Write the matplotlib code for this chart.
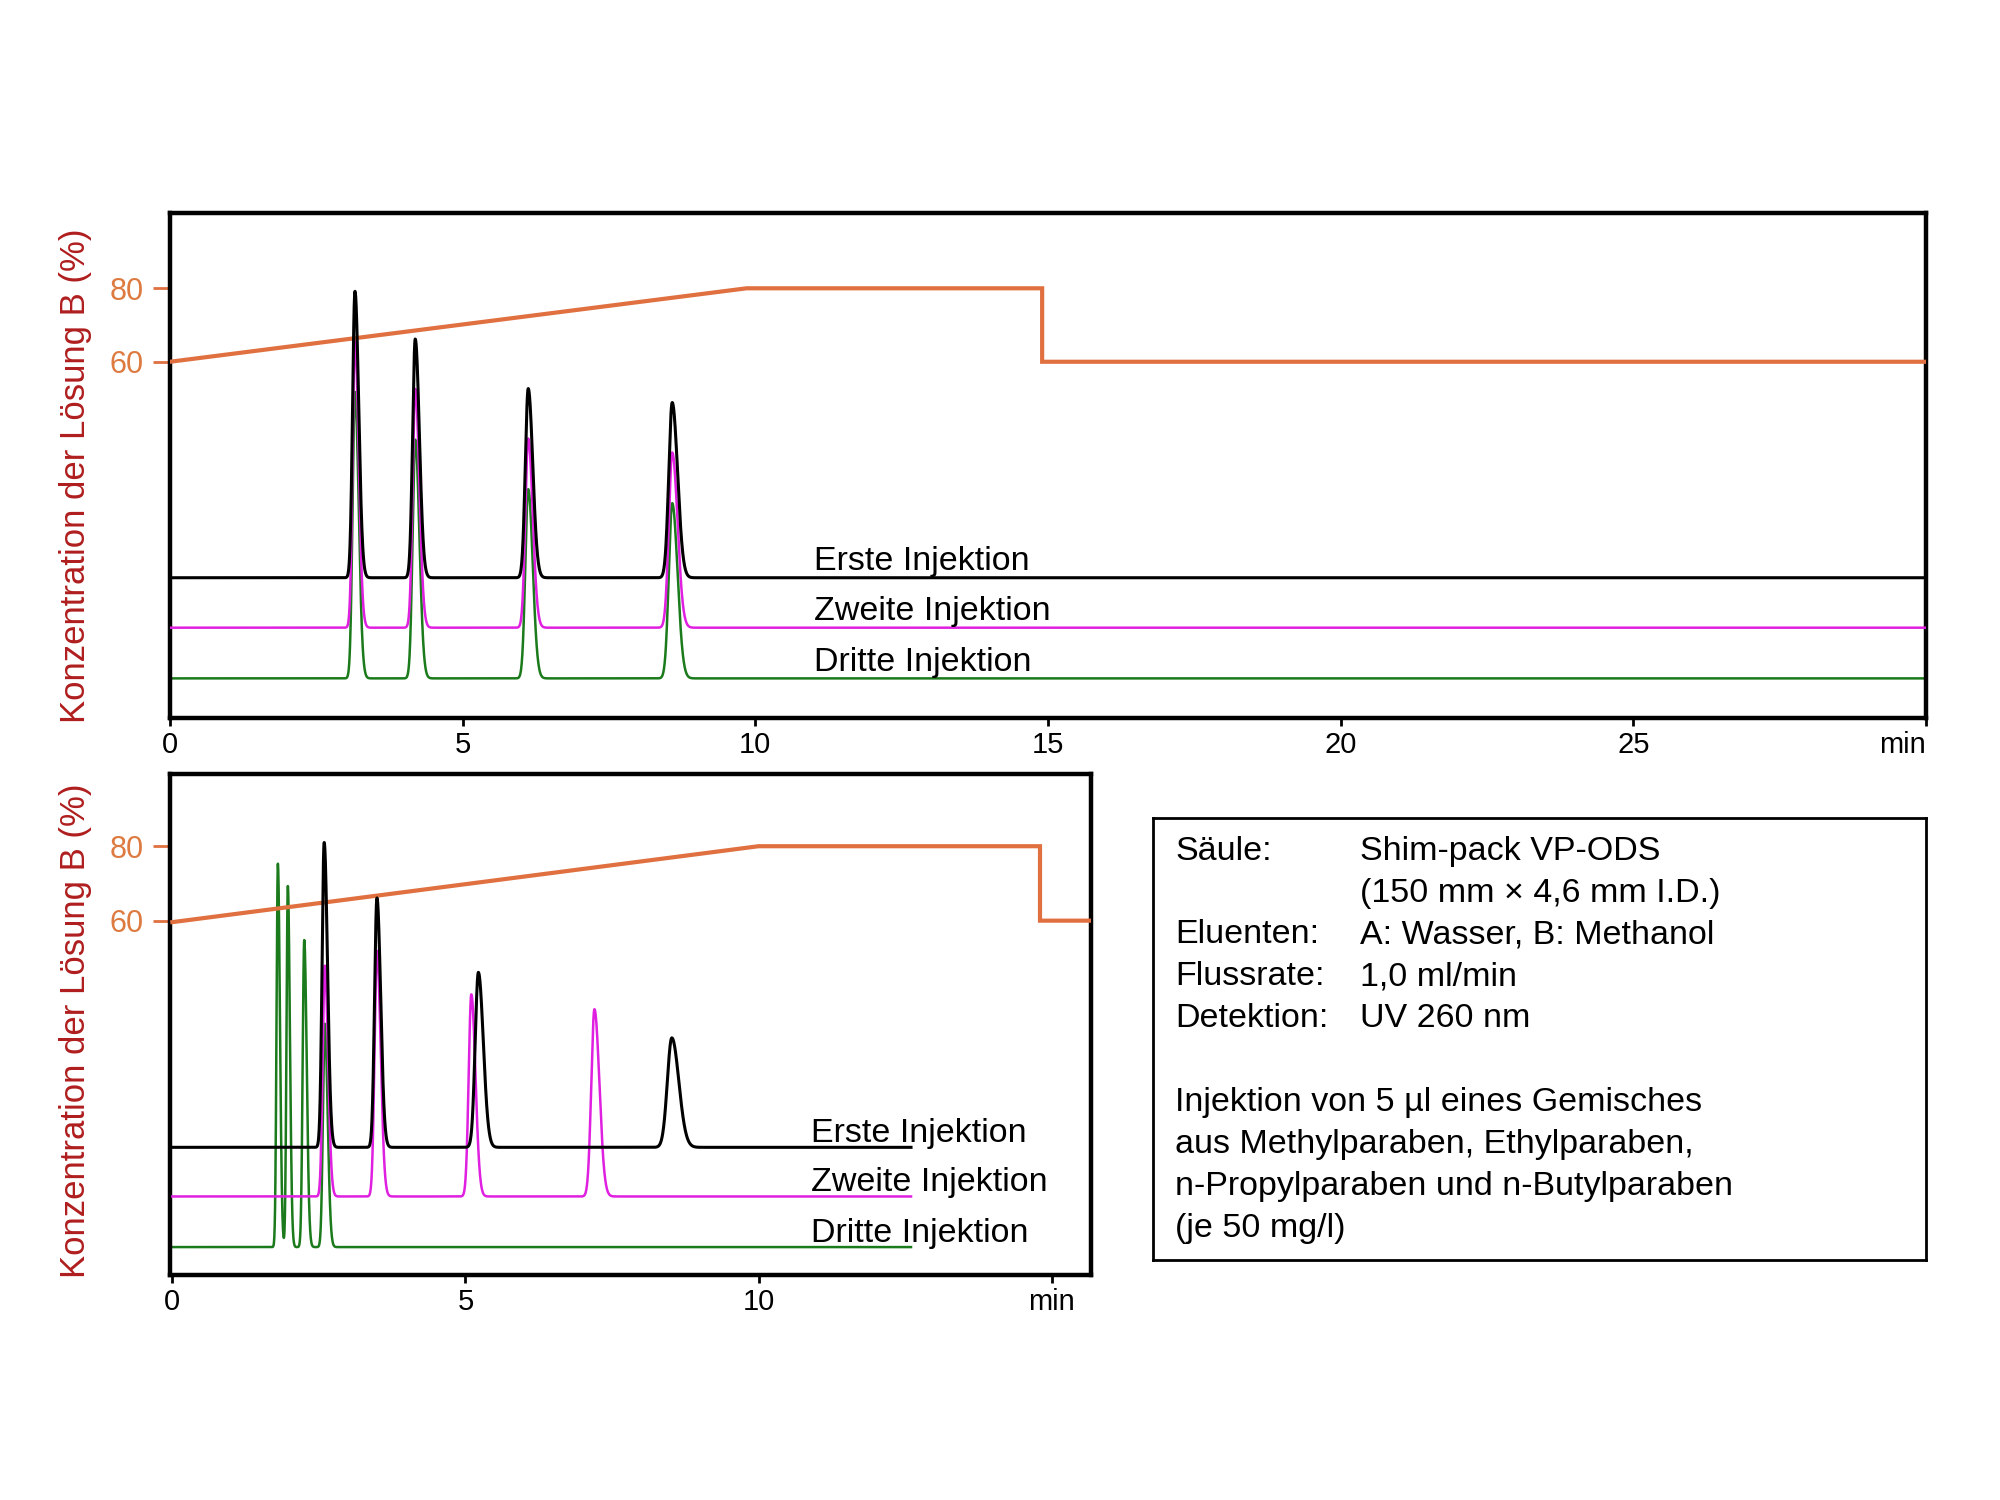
import numpy as np
import matplotlib
matplotlib.use("Agg")
import matplotlib.pyplot as plt

plt.rcParams['font.family'] = ['Liberation Sans', 'DejaVu Sans']

# gradient program (% B)
grad_top_t = [0, 9.85, 14.9, 14.9, 30]
grad_top_b = [60, 80, 80, 60, 60]
grad_bot_t = [0, 10.0, 14.8, 14.8, 15.7]
grad_bot_b = [59.6, 80, 80, 60, 60]

# top panel: peaks (retention time, height, width) - same for all three injections
top_rt = [3.16, 4.19, 6.12, 8.58]
top_h = [78.0, 65.0, 51.5, 47.7]
top_w = [0.045, 0.05, 0.055, 0.065]
top_base = [1.2, -12.4, -26.2]

# bottom panel
bot_rt_1 = [2.59, 3.49, 5.22, 8.52]
bot_h_1 = [81.9, 67.0, 47.0, 29.4]
bot_w_1 = [0.04, 0.045, 0.06, 0.085]
bot_rt_2 = [2.60, 3.49, 5.10, 7.20]
bot_h_2 = [62.0, 66.0, 54.3, 50.3]
bot_w_2 = [0.04, 0.045, 0.05, 0.06]
bot_rt_3 = [1.80, 1.97, 2.25, 2.60]
bot_h_3 = [103.0, 97.0, 82.5, 60.0]
bot_w_3 = [0.025, 0.025, 0.03, 0.035]
bot_base = [-0.9, -14.1, -27.7]

trace_names = ["Erste Injektion", "Zweite Injektion", "Dritte Injektion"]
trace_colors = ["black", "#e020e0", "#1b7a1b"]
trace_lw = [2.2, 1.8, 1.8]

info_keys = ["Säule:", "", "Eluenten:", "Flussrate:", "Detektion:"]
info_vals = ["Shim-pack VP-ODS", "(150 mm × 4,6 mm I.D.)", "A: Wasser, B: Methanol",
             "1,0 ml/min", "UV 260 nm"]
info_note = ["Injektion von 5 µl eines Gemisches", "aus Methylparaben, Ethylparaben,",
             "n-Propylparaben und n-Butylparaben", "(je 50 mg/l)"]

ORANGE = "#e07040"
ORANGE_TXT = "#dd7a40"
DARKRED = "#b01e1e"


def chrom(t, base, rts, hs, ws):
    y = np.full_like(t, base, dtype=float)
    for rt, h, w in zip(rts, hs, ws):
        s = np.where(t < rt, 0.9 * w, 1.4 * w)
        y += h * np.exp(-0.5 * ((t - rt) / s) ** 2)
    return y


def style_axes(ax, xticks, xlabels, ylim):
    for sp in ax.spines.values():
        sp.set_linewidth(3.2)
        sp.set_color("black")
    ax.set_ylim(*ylim)
    ax.set_xticks(xticks)
    ax.set_xticklabels(xlabels)
    ax.set_yticks([60, 80])
    ax.tick_params(axis='x', length=6, width=2, pad=3, labelsize=21, colors="black")
    ax.tick_params(axis='y', length=12, width=2, pad=7, labelsize=22,
                   colors=ORANGE, labelcolor=ORANGE_TXT)


fig = plt.figure(figsize=(20, 15), dpi=100)

# ---- top panel
ax1 = fig.add_axes([0.085, 0.5213, 0.878, 0.3367])
t1 = np.linspace(0, 30, 8000)
ax1.plot(grad_top_t, grad_top_b, color=ORANGE, lw=3, zorder=4, solid_joinstyle='miter')
for i in [2, 1, 0]:
    y = chrom(t1, top_base[i], top_rt, top_h, top_w)
    ax1.plot(t1, y, color=trace_colors[i], lw=trace_lw[i], zorder=5 if i == 0 else 2 + (2 - i))
    ax1.text(11.0, top_base[i] + 2, trace_names[i], fontsize=24.5, va='baseline', ha='left', zorder=6)
ax1.set_xlim(0, 30)
style_axes(ax1, [0, 5, 10, 15, 20, 25, 30], ['0', '5', '10', '15', '20', '25', 'min'], (-37, 100.5))
ax1.get_xticklabels()[-1].set_ha('right')
ax1.set_ylabel("Konzentration der Lösung B (%)", fontsize=25, color=DARKRED)
ax1.yaxis.set_label_coords(-0.0444, 0.479)

# ---- bottom panel
ax2 = fig.add_axes([0.085, 0.15, 0.4605, 0.334])
t2 = np.linspace(0, 12.6, 6000)
ax2.plot(grad_bot_t, grad_bot_b, color=ORANGE, lw=3, zorder=4, solid_joinstyle='miter')
bot_params = [(bot_rt_1, bot_h_1, bot_w_1), (bot_rt_2, bot_h_2, bot_w_2), (bot_rt_3, bot_h_3, bot_w_3)]
for i in [2, 1, 0]:
    rts, hs, ws = bot_params[i]
    y = chrom(t2, bot_base[i], rts, hs, ws)
    ax2.plot(t2, y, color=trace_colors[i], lw=trace_lw[i], zorder=5 if i == 0 else 2 + (2 - i))
    ax2.text(10.9, bot_base[i] + 1.5, trace_names[i], fontsize=24.5, va='baseline', ha='left', zorder=6)
ax2.set_xlim(-0.04, 15.67)
style_axes(ax2, [0, 5, 10, 15], ['0', '5', '10', 'min'], (-35.2, 99.4))
ax2.set_ylabel("Konzentration der Lösung B (%)", fontsize=25, color=DARKRED)
ax2.yaxis.set_label_coords(-0.0847, 0.487)

# ---- info box
ax3 = fig.add_axes([0.5765, 0.16, 0.3865, 0.2947])
ax3.set_xticks([])
ax3.set_yticks([])
for sp in ax3.spines.values():
    sp.set_linewidth(2)
line_step = 0.0948
y0 = 0.925
for i, (k, v) in enumerate(zip(info_keys, info_vals)):
    y = y0 - i * line_step
    ax3.text(0.0285, y, k, fontsize=24.5, va='center', ha='left', transform=ax3.transAxes)
    ax3.text(0.268, y, v, fontsize=24.5, va='center', ha='left', transform=ax3.transAxes)
for j, line in enumerate(info_note):
    y = y0 - (6 + j) * line_step
    ax3.text(0.0285, y, line, fontsize=24.5, va='center', ha='left', transform=ax3.transAxes)

fig.savefig("out.png", dpi=100, facecolor="white")
